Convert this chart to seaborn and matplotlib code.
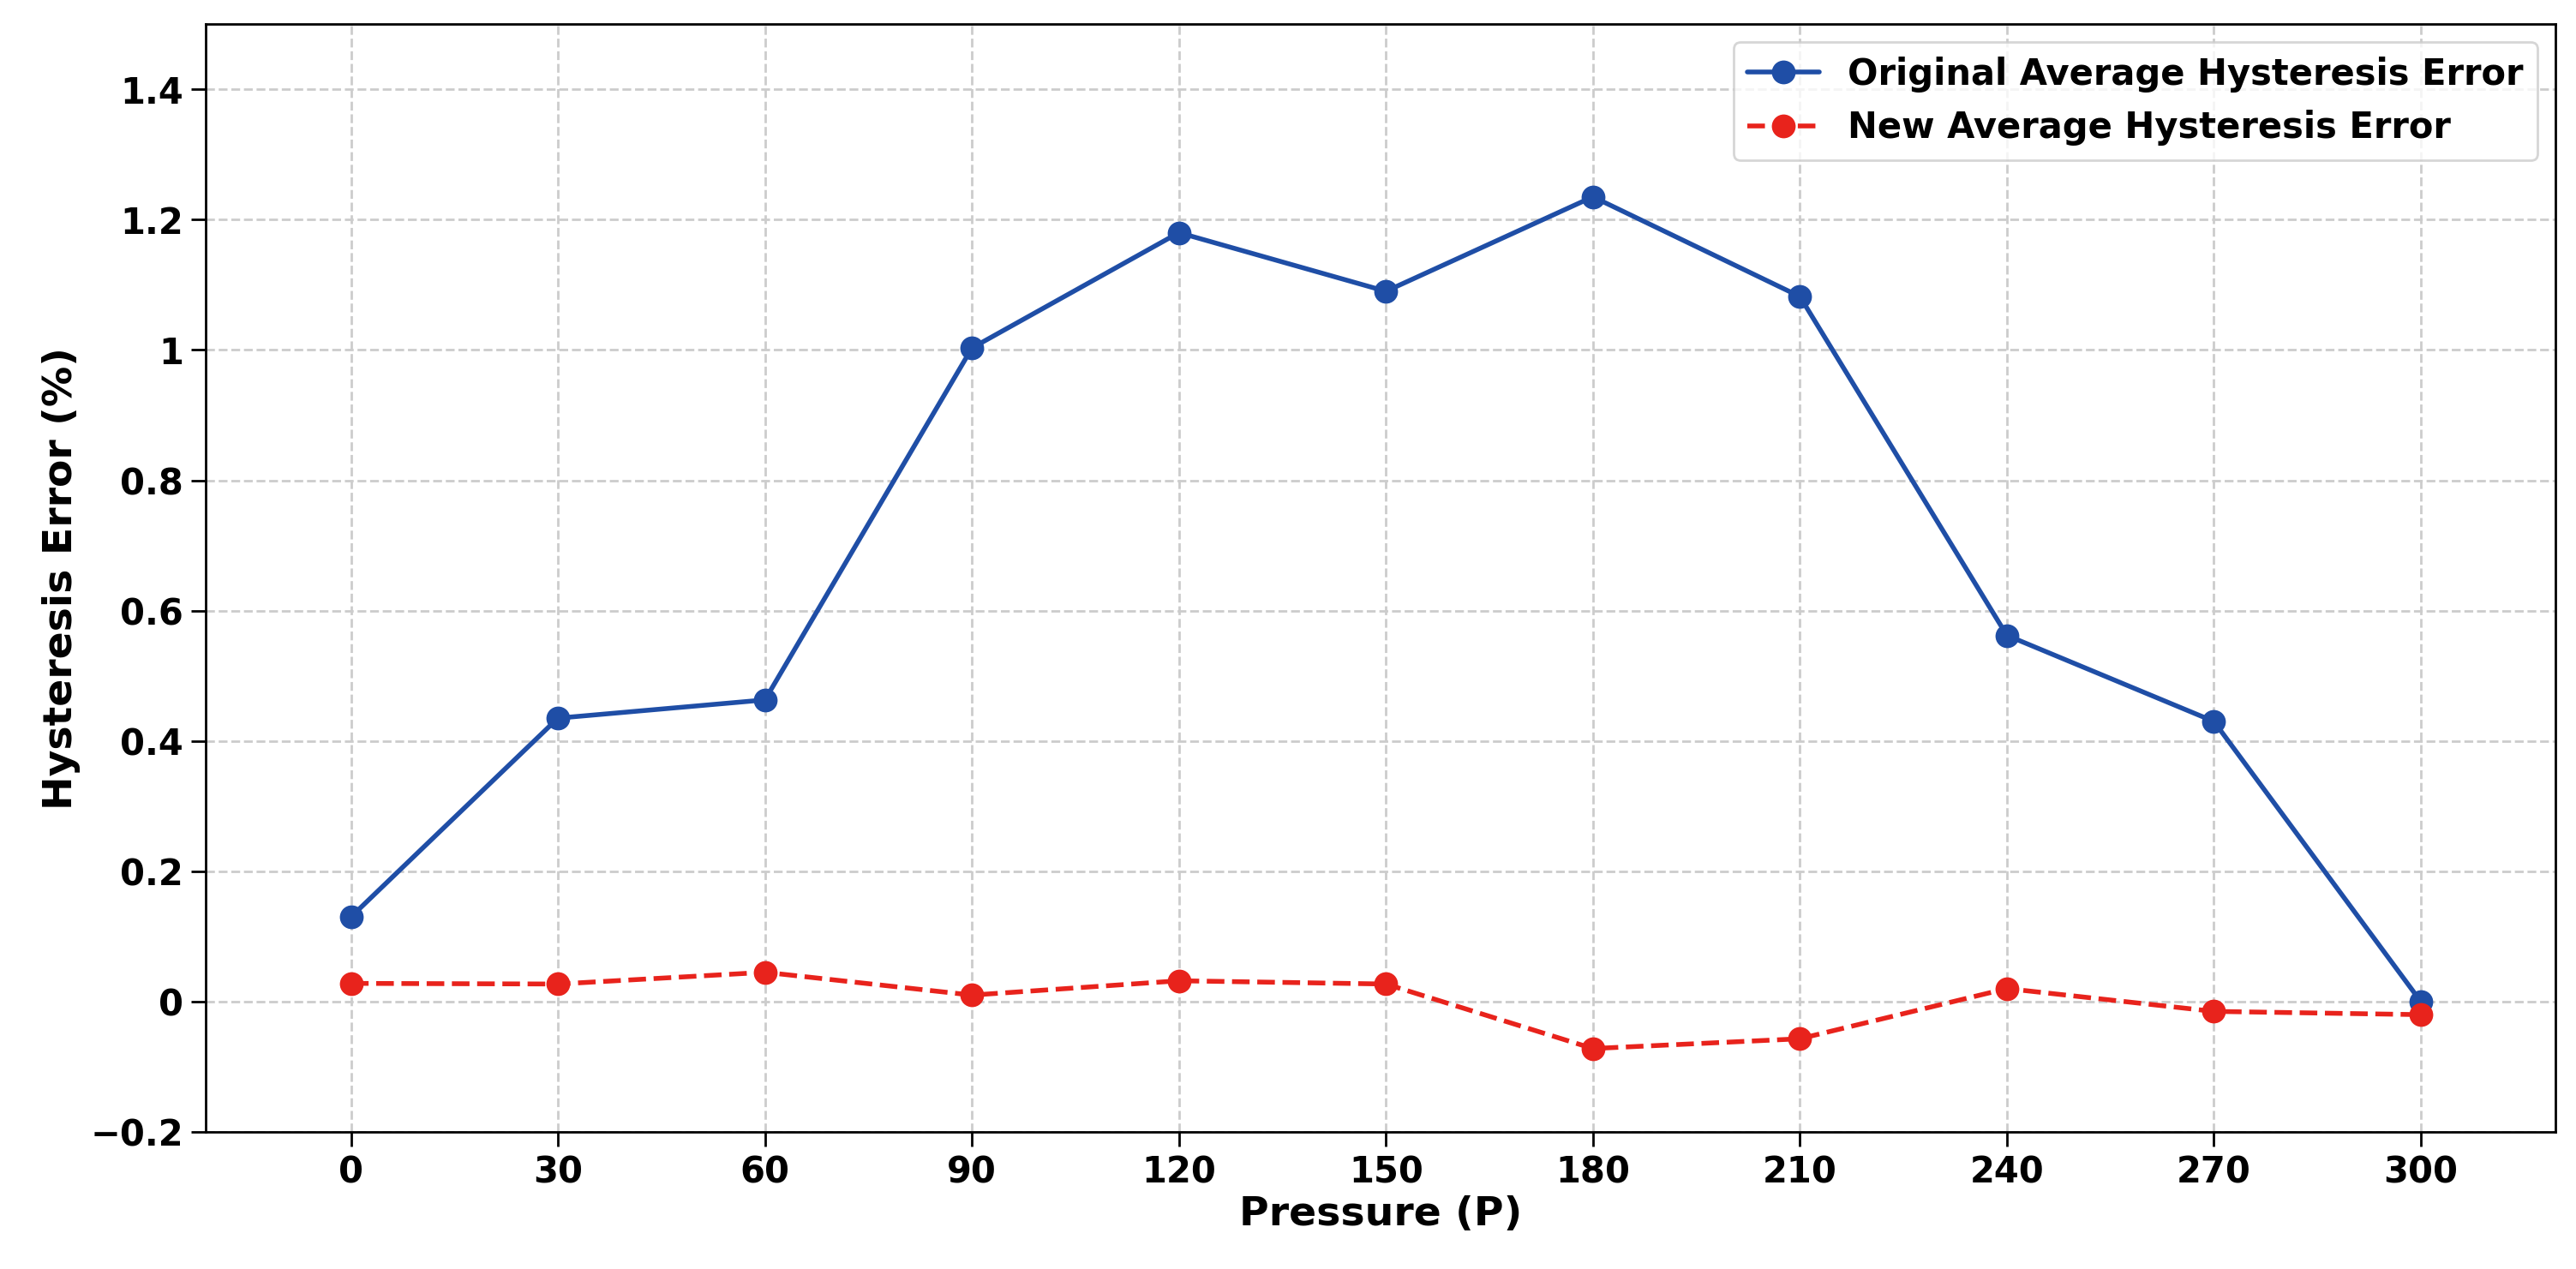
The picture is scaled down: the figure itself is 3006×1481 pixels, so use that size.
import matplotlib
matplotlib.use("Agg")
import matplotlib.pyplot as plt
import matplotlib.ticker as mticker
import seaborn as sns
import pandas as pd

pressure = [0, 30, 60, 90, 120, 150, 180, 210, 240, 270, 300]
original_err = [0.13, 0.435, 0.463, 1.003, 1.18, 1.09, 1.235, 1.082, 0.562, 0.43, 0.0]
new_err = [0.028, 0.027, 0.045, 0.01, 0.032, 0.027, -0.072, -0.057, 0.02, -0.015, -0.02]

df = pd.DataFrame({"P": pressure, "orig": original_err, "new": new_err})

sns.set_style("white")
plt.rcParams["font.family"] = ["DejaVu Sans"]
plt.rcParams["font.weight"] = "bold"
plt.rcParams["text.color"] = "black"
plt.rcParams["axes.labelcolor"] = "black"
plt.rcParams["xtick.color"] = "black"
plt.rcParams["ytick.color"] = "black"

fig = plt.figure(figsize=(15.03, 7.405), dpi=200)
ax = fig.add_axes([0.080, 0.108, 0.912, 0.873])

sns.lineplot(data=df, x="P", y="orig", ax=ax, color="#1f4ea6", marker="o",
             markersize=10, linewidth=2, markeredgewidth=0,
             label="Original Average Hysteresis Error")
sns.lineplot(data=df, x="P", y="new", ax=ax, color="#e8231c", marker="o",
             markersize=10, linewidth=2, markeredgewidth=0, linestyle="--",
             label="New Average Hysteresis Error")

ax.set_xlim(-21, 319.5)
ax.set_ylim(-0.2, 1.5)
ax.set_xticks(pressure)
ax.set_yticks([-0.2, 0, 0.2, 0.4, 0.6, 0.8, 1.0, 1.2, 1.4])
ax.yaxis.set_major_formatter(mticker.FuncFormatter(
    lambda v, p: ("\u2212" if v < -1e-9 else "") + f"{abs(v):g}"))
ax.grid(True, linestyle="--", color="#cccccc", linewidth=1)
ax.tick_params(labelsize=15, length=6, width=1, direction="out", bottom=True, left=True)
for lab in ax.get_xticklabels() + ax.get_yticklabels():
    lab.set_fontweight("bold")
for s in ax.spines.values():
    s.set_color("black")
    s.set_linewidth(1)
ax.set_xlabel("Pressure (P)", fontsize=17, fontweight="bold", labelpad=2)
ax.set_ylabel("Hysteresis Error (%)", fontsize=17, fontweight="bold")
leg = ax.legend(loc="upper right", prop={"weight": "bold", "size": 15},
                frameon=True, fancybox=True, edgecolor="#cccccc")

fig.savefig("out.png", dpi=200)
